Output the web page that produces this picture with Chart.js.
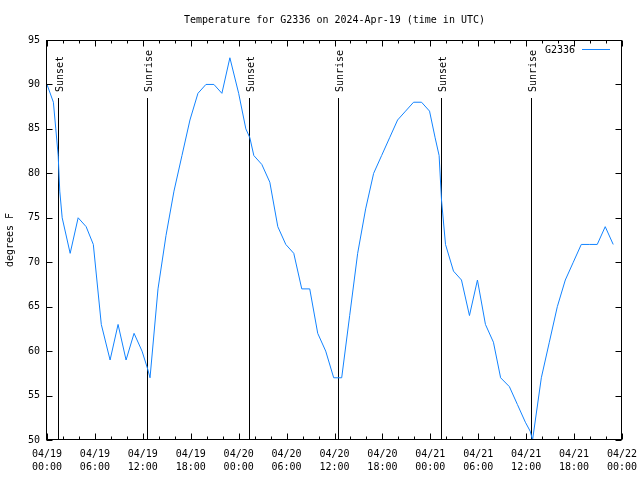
<!DOCTYPE html>
<html lang="en">
<head>
  <meta charset="UTF-8">
  <title>Temperature for G2336</title>
  <style>
    html, body { margin: 0; padding: 0; background: #fff; }
    #wrap { width: 640px; height: 480px; }
  </style>
</head>
<body>
  <div id="wrap"><canvas id="tempChart" width="640" height="480"></canvas></div>

  <script src="https://cdn.jsdelivr.net/npm/chart.js"></script>
  <script>
    // hours since 04/19 00:00 UTC, and temperature readings (F)
    const hours = [
      0, 0.8, 1.1, 1.4, 1.6, 1.9, 2.9, 3.9, 4.9, 5.8,
      6.8, 7.9, 8.9, 9.9, 10.9, 11.9, 12.6, 12.9, 13.9, 14.9,
      15.9, 16.9, 17.9, 18.9, 19.9, 20.9, 21.9, 22.9, 24.0, 24.9,
      25.4, 25.9, 26.9, 27.9, 28.9, 29.9, 30.9, 31.9, 32.9, 33.9,
      34.9, 35.9, 36.9, 37.9, 38.9, 39.9, 40.9, 41.9, 42.9, 43.9,
      44.9, 45.9, 46.9, 47.9, 48.6, 49.1, 49.4, 49.9, 50.9, 51.9,
      52.9, 53.9, 54.9, 55.9, 56.8, 57.9, 58.9, 59.9, 60.5, 60.8,
      61.9, 62.9, 63.9, 64.9, 65.9, 66.9, 67.9, 68.9, 69.9, 70.9
    ];
    const tempsF = [
      90, 88, 85, 82, 78, 75, 71, 75, 74, 72,
      63, 59, 63, 59, 62, 60, 58, 57, 67, 73,
      78, 82, 86, 89, 90, 90, 89, 93, 89, 85,
      84, 82, 81, 79, 74, 72, 71, 67, 67, 62,
      60, 57, 57, 64, 71, 76, 80, 82, 84, 86,
      87, 88, 88, 87, 84, 82, 77, 72, 69, 68,
      64, 68, 63, 61, 57, 56, 54, 52, 51, 50,
      57, 61, 65, 68, 70, 72, 72, 72, 74, 72
    ];

    const sunsetHours = [1.42, 25.35, 49.37];
    const sunriseHours = [12.57, 36.5, 60.57];

    const tickLabels = [
      ['04/19', '00:00'], ['04/19', '06:00'], ['04/19', '12:00'], ['04/19', '18:00'],
      ['04/20', '00:00'], ['04/20', '06:00'], ['04/20', '12:00'], ['04/20', '18:00'],
      ['04/21', '00:00'], ['04/21', '06:00'], ['04/21', '12:00'], ['04/21', '18:00'],
      ['04/22', '00:00']
    ];

    const FONT = 'DejaVu Sans Mono';
    const LINE_COLOR = '#1283ff';

    Chart.defaults.color = '#000';
    Chart.defaults.font.family = FONT;
    Chart.defaults.font.size = 10;

    // gnuplot-style frame with inward ticks, sunrise/sunset markers, legend
    const framePlugin = {
      id: 'frame',
      beforeDatasetsDraw(chart) {
        const { ctx, chartArea: a, scales: { x } } = chart;
        ctx.save();
        ctx.strokeStyle = '#000';
        ctx.lineWidth = 1;
        ctx.fillStyle = '#000';
        ctx.font = '10px ' + FONT;
        const marks = sunsetHours.map(h => [h, 'Sunset'])
          .concat(sunriseHours.map(h => [h, 'Sunrise']));
        marks.forEach(([h, label]) => {
          const px = Math.round(x.getPixelForValue(h)) + 0.5;
          ctx.beginPath();
          ctx.moveTo(px, a.top + 58);
          ctx.lineTo(px, a.bottom);
          ctx.stroke();
          ctx.save();
          ctx.translate(px + 1.5, a.top + 52);
          ctx.rotate(-Math.PI / 2);
          ctx.textAlign = 'left';
          ctx.textBaseline = 'middle';
          ctx.fillText(label, 0, 0);
          ctx.restore();
        });
        ctx.restore();
      },
      afterDraw(chart) {
        const { ctx, chartArea: a, scales: { x, y } } = chart;
        ctx.save();
        ctx.strokeStyle = '#000';
        ctx.lineWidth = 1;
        const L = Math.round(a.left) - 0.5, R = Math.round(a.right) - 0.5;
        const T = Math.round(a.top) + 0.5, B = Math.round(a.bottom) - 0.5;
        ctx.strokeRect(L, T, R - L, B - T);

        ctx.beginPath();
        for (let v = 50; v <= 95; v += 5) {
          const py = Math.round(y.getPixelForValue(v)) + 0.5;
          ctx.moveTo(L, py); ctx.lineTo(L + 6, py);
          ctx.moveTo(R, py); ctx.lineTo(R - 6, py);
        }
        for (let h = 0; h <= 72; h += 2) {
          const px = Math.round(x.getPixelForValue(h)) + 0.5;
          const len = h % 6 === 0 ? 6 : 3;
          ctx.moveTo(px, B); ctx.lineTo(px, B - len);
          ctx.moveTo(px, T); ctx.lineTo(px, T + len);
        }
        ctx.stroke();

        // legend
        ctx.font = '10px ' + FONT;
        ctx.fillStyle = '#000';
        ctx.textAlign = 'right';
        ctx.textBaseline = 'middle';
        ctx.fillText(chart.data.datasets[0].label, a.right - 47, a.top + 10);
        ctx.strokeStyle = LINE_COLOR;
        ctx.beginPath();
        ctx.moveTo(a.right - 40, a.top + 9.5);
        ctx.lineTo(a.right - 12, a.top + 9.5);
        ctx.stroke();
        ctx.restore();
      }
    };

    const ctx = document.getElementById('tempChart').getContext('2d');
    new Chart(ctx, {
      type: 'line',
      data: {
        datasets: [{
          label: 'G2336',
          data: hours.map((h, i) => ({ x: h, y: tempsF[i] })),
          borderColor: LINE_COLOR,
          borderWidth: 1,
          pointRadius: 0,
          tension: 0,
          fill: false
        }]
      },
      options: {
        responsive: false,
        animation: false,
        layout: { padding: { left: 0, right: 18, top: 0, bottom: 0 } },
        plugins: {
          legend: { display: false },
          tooltip: { enabled: false },
          title: {
            display: true,
            fullSize: false,
            text: 'Temperature for G2336 on 2024-Apr-19 (time in UTC)',
            font: { size: 10, weight: 'normal' },
            padding: { top: 14, bottom: 14 }
          }
        },
        scales: {
          x: {
            type: 'linear',
            min: 0,
            max: 72,
            grid: { display: false, drawTicks: false },
            border: { display: false },
            ticks: {
              stepSize: 6,
              autoSkip: false,
              maxRotation: 0,
              padding: 8,
              font: { size: 10, lineHeight: 1.3 },
              callback: (v, i) => tickLabels[i]
            },
            afterFit: s => { s.height = 40; s.paddingLeft = 0; s.paddingRight = 0; }
          },
          y: {
            min: 50,
            max: 95,
            grid: { display: false, drawTicks: false },
            border: { display: false },
            ticks: { stepSize: 5, padding: 7, font: { size: 10 } },
            title: {
              display: true,
              text: 'degrees F',
              font: { size: 10 },
              padding: { top: 4, bottom: 4 }
            },
            afterFit: s => { s.width = 47; s.paddingTop = 0; s.paddingBottom = 0; }
          }
        }
      },
      plugins: [framePlugin]
    });
  </script>
</body>
</html>
